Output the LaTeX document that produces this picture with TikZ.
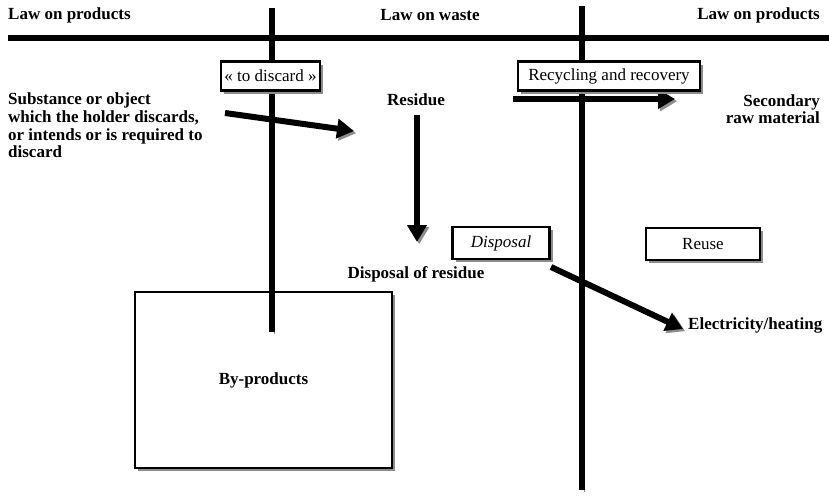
\documentclass[tikz,border=0pt]{standalone}
\usepackage{fontspec}
\setmainfont{Liberation Serif}
\usetikzlibrary{arrows.meta,positioning,shadows}
\definecolor{ShadowClr}{gray}{0.55}

\tikzset{
  lbl/.style={font=\fontsize{17}{17.6}\selectfont\bfseries, inner sep=0pt},
  tagbox/.style={draw, line width=2.5pt, fill=white, inner sep=0pt,
    font=\fontsize{17}{18}\selectfont,
    drop shadow={shadow xshift=3pt, shadow yshift=-3pt, fill=ShadowClr, opacity=1}},
  bar/.style={line width=6pt,
    preaction={draw=ShadowClr, transform canvas={xshift=2.2pt,yshift=-2.2pt}}},
  flow/.style={bar, -{Triangle[length=17pt,width=19pt]}},
}

\begin{document}
\begin{tikzpicture}[x=1pt,y=-1pt]
\useasboundingbox[fill=white] (0,0) rectangle (829,495);

% headings
\node[lbl, anchor=west] (lawL) at (8,15) {Law on products};
\node[lbl] (lawW) at (430,15) {Law on waste};
\node[lbl, anchor=east] (lawR) at (820,15) {Law on products};

% labels
\node[lbl, anchor=north west, align=left] (subst) at (8,93)
  {Substance or object\\which the holder discards,\\or intends or is required to\\discard};
\node[lbl] (resid) at (416,100) {Residue};
\node[lbl, anchor=east, align=right] (second) at (820,109) {Secondary\\raw material};
\node[lbl] (dispres) at (416,274) {Disposal of residue};
\node[lbl, anchor=west] (elec) at (688,325) {Electricity/heating};

% by-products
\node[tagbox, line width=2pt, minimum width=257pt, minimum height=176pt,
  font=\fontsize{17}{18}\selectfont\bfseries] (byprod) at (263.5,380) {By-products};

% flows
\coordinate (subS) at (225,113);
\coordinate (subE) at (354,131);
\coordinate (resS) at (417,115);
\coordinate (resE) at (417,242);
\coordinate (recS) at (513,99);
\coordinate (recE) at (675,99);
\coordinate (disS) at (551,267);
\coordinate (disE) at (683,329);
\draw[flow] (subS) -- (subE);
\draw[flow] (resS) -- (resE);
\draw[flow] (recS) -- (recE);
\draw[flow] (disS) -- (disE);

% borders between the laws
\coordinate (barW) at (8,38);
\coordinate (barE) at (829,38);
\coordinate (lineLtop) at (272,8);
\coordinate (lineLbot) at (272,332);
\coordinate (lineRtop) at (582,6);
\coordinate (lineRbot) at (582,490);
\draw[bar, line width=6.5pt] (barW) -- (barE);
\draw[bar] (lineLtop) -- (lineLbot);
\draw[bar] (lineRtop) -- (lineRbot);

% boxes
\node[tagbox, minimum width=99pt, minimum height=29pt] (discard) at (270.5,76) {« to discard »};
\node[tagbox, minimum width=182pt, minimum height=29pt] (recyc) at (609,76) {Recycling and recovery};
\node[tagbox, minimum width=97pt, minimum height=32pt] (dispo) at (501,243) {\itshape Disposal};
\node[tagbox, minimum width=114pt, minimum height=32pt] (reuse) at (703,244) {Reuse};

\end{tikzpicture}
\end{document}
